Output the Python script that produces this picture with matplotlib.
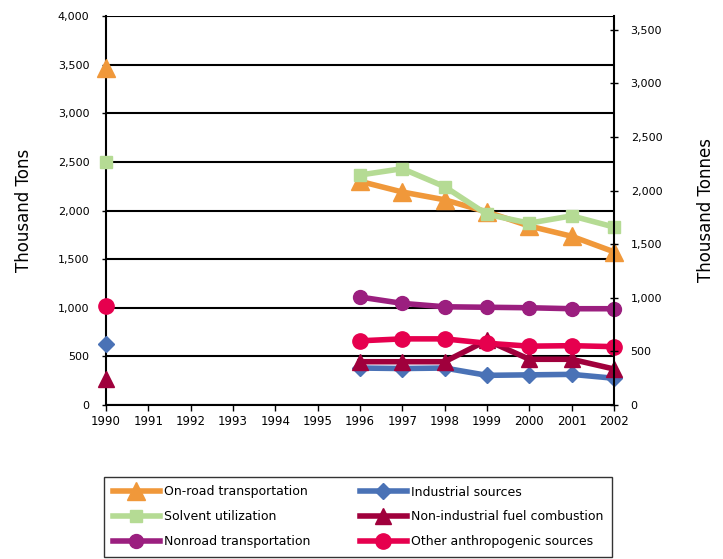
import matplotlib
matplotlib.use("Agg")
import matplotlib.pyplot as plt
import numpy as np

years = [1990, 1996, 1997, 1998, 1999, 2000, 2001, 2002]
onroad = [3470, 2300, 2190, 2110, 1985, 1840, 1735, 1575]
solvent = [2500, 2365, 2430, 2245, 1960, 1870, 1945, 1830]
nonroad = [np.nan, 1110, 1045, 1010, 1005, 1000, 990, 990]
industrial = [630, 380, 375, 380, 305, 310, 315, 275]
nonind_fuel = [270, 445, 445, 445, 665, 470, 470, 370]
other = [1020, 660, 680, 680, 635, 605, 610, 600]

xticks = list(range(1990, 2003))
left_ticks = list(range(0, 4001, 500))
right_ticks = list(range(0, 3501, 500))
TON_TO_TONNE = 0.90718

plt.rcParams['font.family'] = ['DejaVu Sans']

fig = plt.figure(figsize=(7.23, 5.59), dpi=100)
ax = fig.add_axes([106/723, 1-405/559, (614-106)/723, (405-16)/559])

series = [
    (onroad, '#F0983A', '^', 13, 'On-road transportation'),
    (solvent, '#B5DB94', 's', 9, 'Solvent utilization'),
    (nonroad, '#9B1F7F', 'o', 10, 'Nonroad transportation'),
    (industrial, '#4A72B6', 'D', 8, 'Industrial sources'),
    (nonind_fuel, '#A0003C', '^', 11, 'Non-industrial fuel combustion'),
    (other, '#E6004E', 'o', 11, 'Other anthropogenic sources'),
]
handles = []
for y, c, m, ms, lab in series:
    x = np.array(years); yy = np.array(y, dtype=float)
    h, = ax.plot(x[1:], yy[1:], color=c, lw=4, marker=m, ms=ms, label=lab,
                 clip_on=False, zorder=3)
    if not np.isnan(yy[0]):
        ax.plot(x[:1], yy[:1], color=c, lw=0, marker=m, ms=ms, clip_on=False, zorder=3)
    handles.append(h)

ax.set_xlim(1990, 2002)
ax.set_ylim(0, 4000)
ax.set_xticks(xticks)
ax.set_xticklabels([str(t) for t in xticks], fontsize=8.5)
ax.set_yticks(left_ticks)
ax.set_yticklabels([f"{t:,}" for t in left_ticks], fontsize=8)
ax.yaxis.grid(True, color='black', lw=1.5)
ax.set_axisbelow(True)
for s in ['top', 'right']:
    ax.spines[s].set_visible(False)
ax.spines['left'].set_linewidth(1.5)
ax.spines['bottom'].set_linewidth(1.5)
ax.tick_params(axis='x', direction='out', length=4, width=1, pad=3)
ax.tick_params(axis='y', direction='out', length=3, width=1, pad=9)
ax.set_ylabel('Thousand Tons', fontsize=12, labelpad=18)

ax2 = ax.twinx()
ax2.set_ylim(0, 4000 * TON_TO_TONNE)
ax2.set_yticks(right_ticks)
ax2.set_yticklabels([f"{t:,}" for t in right_ticks], fontsize=8)
for s in ['top', 'left', 'bottom']:
    ax2.spines[s].set_visible(False)
ax2.spines['right'].set_linewidth(1.5)
ax2.tick_params(axis='y', direction='inout', length=6, width=1, pad=9)
ax2.set_ylabel('Thousand Tonnes', fontsize=12, labelpad=25)

leg = fig.legend(handles=handles, loc='lower left',
                 bbox_to_anchor=(104/723, 1-557/559, (612-104)/723, (557-473)/559),
                 mode='expand', ncol=2, fontsize=9, frameon=True, fancybox=False,
                 edgecolor='black', handlelength=3.8, borderaxespad=0.0,
                 borderpad=0.7, labelspacing=0.95, columnspacing=1.0,
                 handletextpad=0.3)
leg.get_frame().set_linewidth(1.0)
# widen frame slightly to the left to match box position
fig.canvas.draw()
bb = leg.get_frame().get_bbox()

fig.savefig('out.png', dpi=100)
